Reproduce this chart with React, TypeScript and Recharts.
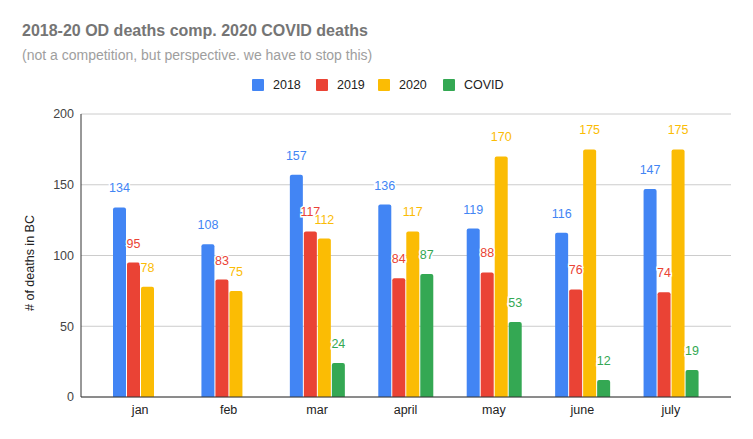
import React from "react";
import { BarChart, Bar, XAxis, YAxis, CartesianGrid, LabelList } from "recharts";

const months = ["jan", "feb", "mar", "april", "may", "june", "july"];
const od2018 = [134, 108, 157, 136, 119, 116, 147];
const od2019 = [95, 83, 117, 84, 88, 76, 74];
const od2020 = [78, 75, 112, 117, 170, 175, 175];
const covid = [null, null, 24, 87, 53, 12, 19];
const yTicks = [0, 50, 100, 150, 200];

const series = [
  { key: "y2018", name: "2018", color: "#4285F4", values: od2018 },
  { key: "y2019", name: "2019", color: "#EA4335", values: od2019 },
  { key: "y2020", name: "2020", color: "#FBBC04", values: od2020 },
  { key: "covid", name: "COVID", color: "#34A853", values: covid },
];

const data = months.map((m, i) => {
  const row: any = { month: m };
  series.forEach((s) => {
    row[s.key] = s.values[i];
  });
  return row;
});

const FONT = "Arial, 'Liberation Sans', sans-serif";
const legendX = [252, 316, 378, 443];

export default function App() {
  return (
    <div style={{ position: "absolute", left: 0, top: 0, width: 753, height: 439, fontFamily: FONT, background: "#fff" }}>
      <div style={{ position: "absolute", left: 22, top: 22, fontSize: 16, fontWeight: "bold", color: "#757575", whiteSpace: "nowrap", lineHeight: "18px" }}>
        2018-20 OD deaths comp. 2020 COVID deaths
      </div>
      <div style={{ position: "absolute", left: 22, top: 47, fontSize: 14, color: "#9e9e9e", whiteSpace: "nowrap", lineHeight: "16px" }}>
        (not a competition, but perspective. we have to stop this)
      </div>
      {series.map((s, i) => (
        <div key={s.key} style={{ position: "absolute", left: legendX[i], top: 79, height: 12, display: "flex", alignItems: "center", whiteSpace: "nowrap" }}>
          <div style={{ width: 12, height: 12, background: s.color, borderRadius: 1 }} />
          <span style={{ marginLeft: 9, fontSize: 12.5, color: "#222" }}>{s.name}</span>
        </div>
      ))}
      <div style={{ position: "absolute", left: 0, top: 0 }}>
        <BarChart
          width={753}
          height={439}
          data={data}
          margin={{ top: 114, right: 22, bottom: 12, left: 0 }}
          barSize={13}
          barGap={1}
        >
          <CartesianGrid vertical={false} stroke="#cccccc" />
          <XAxis
            dataKey="month"
            height={30}
            tickLine={false}
            tickSize={0}
            tickMargin={8}
            axisLine={{ stroke: "#333" }}
            padding={{ left: 15, right: 16 }}
            tick={{ fill: "#222", fontSize: 12.5, fontFamily: FONT }}
          />
          <YAxis
            width={81}
            domain={[0, 200]}
            ticks={yTicks}
            tickLine={false}
            tickSize={0}
            tickMargin={7}
            axisLine={{ stroke: "#333" }}
            tick={{ fill: "#444", fontSize: 12.5, fontFamily: FONT }}
            label={{
              content: () => (
                <text
                  x={34}
                  y={263}
                  transform="rotate(-90 34 263)"
                  textAnchor="middle"
                  fill="#222"
                  fontSize={12.5}
                  fontFamily={FONT}
                >
                  # of deaths in BC
                </text>
              ),
            }}
          />
          {series.map((s) => (
            <Bar key={s.key} dataKey={s.key} name={s.name} fill={s.color} radius={[2, 2, 0, 0]} isAnimationActive={false}>
              <LabelList
                dataKey={s.key}
                position="top"
                offset={15}
                fill={s.color}
                fontSize={12.5}
                fontFamily={FONT}
                stroke="#fff"
                strokeWidth={3}
                style={{ paintOrder: "stroke" }}
              />
            </Bar>
          ))}
        </BarChart>
      </div>
    </div>
  );
}
